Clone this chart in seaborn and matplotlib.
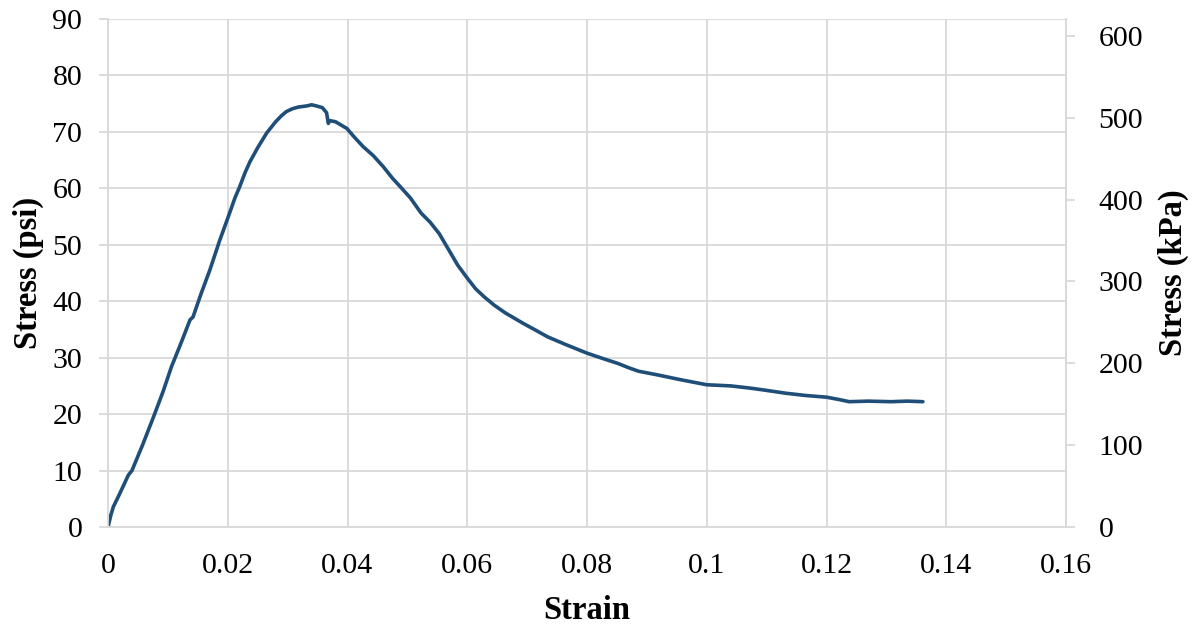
import numpy as np
import pandas as pd
import matplotlib
matplotlib.use('Agg')
import matplotlib.pyplot as plt
import seaborn as sns

# strain / stress (psi) points
strain = [0.0, 0.0005, 0.0009, 0.0020, 0.0034, 0.0040, 0.0058, 0.0076, 0.0092,
          0.0106, 0.0122, 0.0137, 0.0142, 0.0155, 0.0170, 0.0186, 0.0201,
          0.0212, 0.0220, 0.0229, 0.0237, 0.0250, 0.0265, 0.0280, 0.0290,
          0.0298, 0.0308, 0.0318, 0.0332, 0.0340, 0.0348, 0.0358, 0.0365,
          0.0368, 0.0370, 0.0380, 0.0399, 0.0412, 0.0426, 0.0443, 0.0460,
          0.0475, 0.0488, 0.0505, 0.0523, 0.0538, 0.0553, 0.0568, 0.0584,
          0.0600, 0.0614, 0.0628, 0.0645, 0.0664, 0.0693, 0.0712, 0.0734,
          0.0765, 0.0800, 0.0825, 0.0851, 0.0870, 0.0886, 0.0920, 0.0956,
          0.1000, 0.1040, 0.1073, 0.1100, 0.1132, 0.1165, 0.1200, 0.1220,
          0.1238, 0.1270, 0.1308, 0.1335, 0.1361]
stress_psi = [0.0, 2.2, 3.6, 6.0, 9.2, 10.0, 14.6, 19.5, 24.0,
              28.4, 32.6, 36.7, 37.2, 41.2, 45.5, 50.6, 55.0,
              58.3, 60.3, 62.8, 64.7, 67.2, 69.8, 71.8, 72.9,
              73.6, 74.1, 74.4, 74.6, 74.8, 74.6, 74.3, 73.4,
              71.5, 72.0, 71.8, 70.6, 69.0, 67.4, 65.8, 63.8,
              61.8, 60.3, 58.3, 55.6, 54.0, 52.0, 49.3, 46.4,
              44.1, 42.2, 40.8, 39.3, 37.9, 36.1, 35.0, 33.7,
              32.3, 30.8, 29.9, 29.0, 28.2, 27.6, 26.9, 26.1,
              25.2, 25.0, 24.6, 24.2, 23.7, 23.3, 23.0, 22.6,
              22.2, 22.3, 22.2, 22.3, 22.2]

psi_ticks = [0, 10, 20, 30, 40, 50, 60, 70, 80, 90]
kpa_ticks = [0, 100, 200, 300, 400, 500, 600]
strain_ticks = [0, 0.02, 0.04, 0.06, 0.08, 0.1, 0.12, 0.14, 0.16]
strain_labels = ['0', '0.02', '0.04', '0.06', '0.08', '0.1', '0.12', '0.14', '0.16']

df = pd.DataFrame({'Strain': strain, 'Stress': stress_psi})

sns.set_style('white')
plt.rcParams['font.family'] = ['Liberation Serif', 'DejaVu Serif']
plt.rcParams['text.color'] = 'black'
plt.rcParams['axes.labelcolor'] = 'black'
plt.rcParams['xtick.color'] = 'black'
plt.rcParams['ytick.color'] = 'black'

grid_c = '#D9D9D9'
line_c = '#1F4E79'

fig = plt.figure(figsize=(11.94, 6.3), dpi=100)
ax = fig.add_axes([108 / 1194, 1 - 527 / 630, (1066 - 108) / 1194, (527 - 19) / 630])

sns.lineplot(data=df, x='Strain', y='Stress', sort=False, color=line_c,
             linewidth=2.6, ax=ax)

ax.set_xlim(0, 0.16)
ax.set_ylim(0, 90)
ax.set_xticks(strain_ticks)
ax.set_xticklabels(strain_labels)
ax.set_yticks(psi_ticks)
ax.grid(True, color=grid_c, linewidth=1.3)
ax.set_axisbelow(True)
for s in ['left', 'bottom', 'right']:
    ax.spines[s].set_color(grid_c)
    ax.spines[s].set_linewidth(1.3)
ax.spines['top'].set_visible(False)
ax.tick_params(axis='both', direction='out', length=6.5, width=1.3, color=grid_c,
               labelcolor='black', labelsize=21.5, pad=12)
ax.set_xlabel('Strain', fontsize=23.5, fontweight='bold', labelpad=12)
ax.set_ylabel('Stress (psi)', fontsize=23.5, fontweight='bold', labelpad=6)

ax2 = ax.twinx()
ax2.set_ylim(0, 90 * 6.894757)
ax2.set_yticks(kpa_ticks)
ax2.spines['top'].set_visible(False)
ax2.spines['left'].set_visible(False)
ax2.spines['bottom'].set_visible(False)
ax2.spines['right'].set_color(grid_c)
ax2.spines['right'].set_linewidth(1.3)
ax2.tick_params(axis='y', direction='out', length=6.5, width=1.3, color=grid_c,
                labelcolor='black', labelsize=21.5, pad=17)
ax2.set_ylabel('Stress (kPa)', fontsize=23.5, fontweight='bold', labelpad=10)

fig.savefig('out.png', dpi=100)
